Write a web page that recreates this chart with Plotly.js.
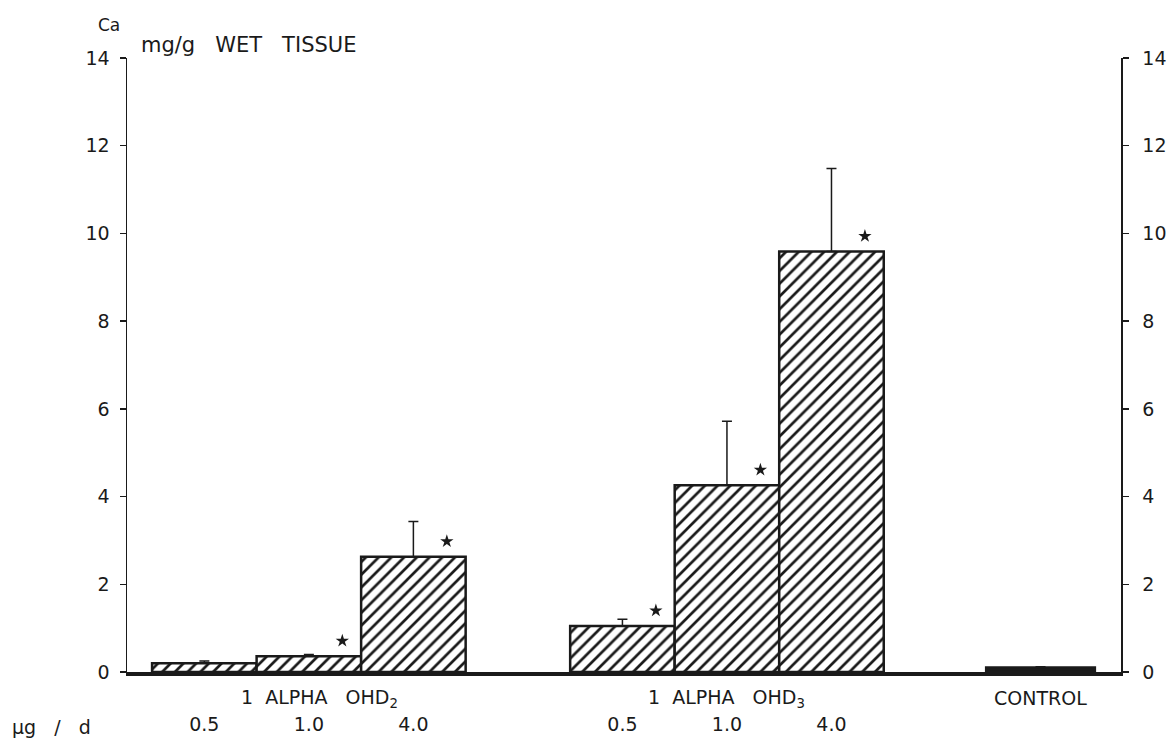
<!DOCTYPE html>
<html>
<head>
<meta charset="utf-8">
<script src="https://cdn.plot.ly/plotly-3.0.1.min.js"></script>
<style>html,body{margin:0;padding:0;background:#fff;}#chart{width:1176px;height:740px;}</style>
</head>
<body>
<div id="chart"></div>
<script>
// ---- data ----
const S = "\u00a0";
const groups = ["1" + S + S + "ALPHA" + S + S + S + "OHD<sub>2</sub>", "1" + S + S + "ALPHA" + S + S + S + "OHD<sub>3</sub>", "CONTROL"];
const doses  = [["0.5", "1.0", "4.0"], ["0.5", "1.0", "4.0"], [""]];
const means  = [[0.20, 0.36, 2.63], [1.05, 4.26, 9.59], [0.10]];
const sems   = [[0.05, 0.04, 0.80], [0.15, 1.46, 1.89], [0.02]];
const signif = [[false, true, true], [true, true, true], [false]];
const yTicks = [0, 2, 4, 6, 8, 10, 12, 14];
const unitLabel = "µg" + S + S + S + "/" + S + S + S + "d";
const yTitleTop = "Ca";
const yTitle = "mg/g" + S + S + S + "WET" + S + S + S + "TISSUE";

// ---- build slots (one empty slot between groups) ----
const hx = [], hy = [], he = [];      // hatched (treated) bars
const cx = [], cy = [], ce = [];      // solid (control) bars
const tickVals = [], tickText = [], groupCenters = [];
const starX = [], starY = [];
let start = 0;
groups.forEach((g, gi) => {
  const n = means[gi].length;
  const isControl = gi === groups.length - 1;
  means[gi].forEach((v, i) => {
    const x = start + i;
    if (isControl) { cx.push(x); cy.push(v); ce.push(sems[gi][i]); }
    else { hx.push(x); hy.push(v); he.push(sems[gi][i]); }
    tickVals.push(x); tickText.push(doses[gi][i]);
    if (signif[gi][i]) { starX.push(x + 0.32); starY.push(v + 0.35); }
  });
  groupCenters.push(start + (n - 1) / 2);
  start += n + 1;
});

const font = "DejaVu Sans, Verdana, sans-serif";
const ink = "#1a1a1a";

function errBar(arr) {
  return {type: "data", symmetric: false, array: arr, arrayminus: arr.map(() => 0),
          color: ink, thickness: 1.5, width: 5};
}

const hatched = {
  type: "bar", x: hx, y: hy, width: 1,
  marker: {
    color: "#ffffff",
    line: {color: ink, width: 2.5},
    pattern: {shape: "/", fillmode: "overlay", fgcolor: ink, fgopacity: 1, size: 9, solidity: 0.3}
  },
  error_y: errBar(he), hoverinfo: "skip", showlegend: false
};
const control = {
  type: "bar", x: cx, y: cy, width: 1.04,
  marker: {color: ink, line: {color: ink, width: 2.5}},
  error_y: errBar(ce), hoverinfo: "skip", showlegend: false
};
const stars = {
  type: "scatter", mode: "markers", x: starX, y: starY,
  marker: {symbol: "star", size: 10, color: ink},
  hoverinfo: "skip", showlegend: false
};
const dummy = {type: "scatter", x: [null], y: [null], yaxis: "y2", hoverinfo: "skip", showlegend: false};

const annotations = groups.map((g, gi) => ({
  text: g, x: groupCenters[gi] + (gi === 0 ? 0.1 : 0), xref: "x", y: 0, yref: "paper",
  yanchor: "middle", yshift: -26, showarrow: false,
  font: {family: font, size: 19, color: ink}
}));
annotations.push({text: unitLabel, xref: "paper", x: -0.118, xanchor: "left", yref: "paper", y: 0,
  yanchor: "middle", yshift: -55, showarrow: false, font: {family: font, size: 19, color: ink}});
annotations.push({text: yTitleTop, xref: "paper", x: -0.018, xanchor: "center", yref: "paper", y: 1,
  yanchor: "middle", yshift: 33, showarrow: false, font: {family: font, size: 17, color: ink}});
annotations.push({text: yTitle, xref: "paper", x: 0.012, xanchor: "left", yref: "paper", y: 1,
  yanchor: "middle", yshift: 13, showarrow: false, font: {family: font, size: 21, color: ink}});

const yax = {
  range: [0, 14], tickvals: yTicks, showgrid: false, zeroline: false,
  showline: true, linecolor: ink, linewidth: 1.5,
  ticks: "outside", ticklen: 6, tickwidth: 1.5, tickcolor: ink,
  tickfont: {family: font, size: 19, color: ink}, fixedrange: true
};

const layout = {
  width: 1176, height: 740,
  margin: {l: 127, r: 55, t: 58, b: 68},
  paper_bgcolor: "#fff", plot_bgcolor: "#fff",
  showlegend: false, bargap: 0, barmode: "overlay",
  xaxis: {
    range: [-0.74, 8.77], tickvals: tickVals, ticktext: tickText, ticks: "",
    showgrid: false, zeroline: false, showline: true, linecolor: ink, linewidth: 4,
    tickfont: {family: font, size: 19, color: ink}, ticklabelstandoff: 32, fixedrange: true
  },
  yaxis: Object.assign({}, yax, {ticklabelstandoff: 6}),
  yaxis2: Object.assign({}, yax, {overlaying: "y", side: "right", ticklabelstandoff: 10}),
  annotations: annotations
};

Plotly.newPlot("chart", [hatched, control, stars, dummy], layout, {displayModeBar: false, staticPlot: true});
</script>
</body>
</html>
